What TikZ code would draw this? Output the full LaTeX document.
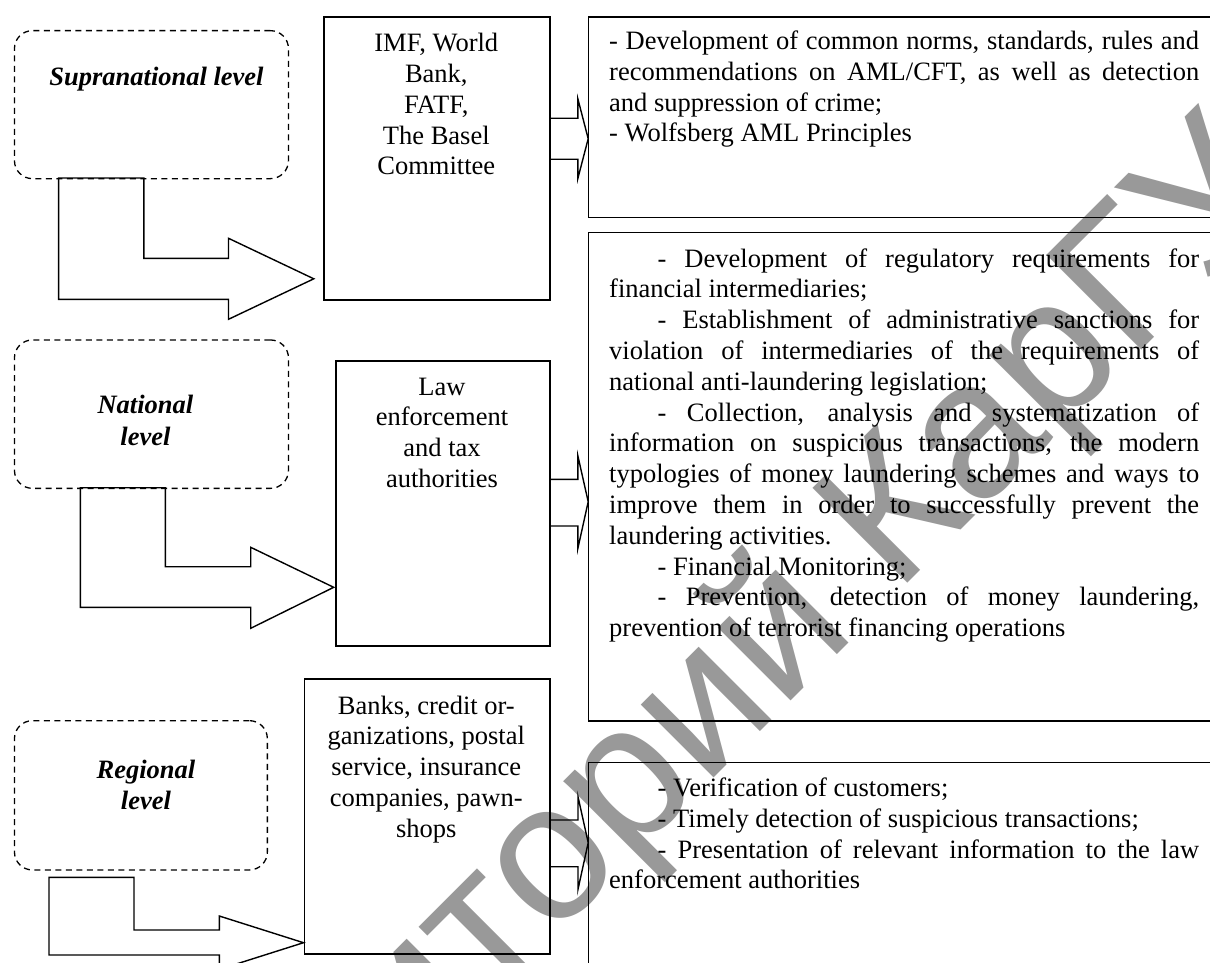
\documentclass[tikz,border=0pt]{standalone}
\usepackage{fontspec}
\setmainfont{Liberation Serif}
\newfontfamily\wmfont{Liberation Sans}
\newcommand\bodysize{\fontsize{26.5pt}{30.8pt}\selectfont}
\newcommand\jtext[3]{\parbox[t]{#1}{\bodysize\tolerance=10000\hbadness=10000\hyphenpenalty=10000\parskip=0pt\setlength{\parindent}{#2}#3}}
\newcommand\ctext[2]{\parbox[t]{#1}{\centering\bodysize #2}}
\newcommand\ltext[2]{\parbox[t]{#1}{\centering\bodysize\bfseries\itshape #2}}
\tikzset{
  orgbox/.style={draw, line width=1.6pt, inner sep=0pt, anchor=north west},
  levelbox/.style={draw, line width=1.3pt, dash pattern=on 6pt off 4.5pt, rounded corners=18pt, inner sep=0pt, anchor=north west},
  blockarrow/.style={draw, line width=1.4pt, line join=miter},
  txt/.style={inner sep=0pt, anchor=base},
  txtw/.style={inner sep=0pt, anchor=base west},
}
\begin{document}
\begin{tikzpicture}[x=1pt, y=-1pt]
\fill[white] (0,0) rectangle (1210,963);
\useasboundingbox (0,0) rectangle (1210,963);
\clip (0,0) rectangle (1210,963);
% watermark
\node[rotate=45, text=black!40, inner sep=0pt, font=\wmfont\fontsize{195pt}{195pt}\selectfont] (wm) at (628,790) {Репозиторий КарГУ};
% level boxes
\node[levelbox, minimum width=274pt, minimum height=148pt] (sup) at (13.8,30) {};
\node[levelbox, minimum width=274pt, minimum height=148.4pt] (nat) at (13.8,339.3) {};
\node[levelbox, minimum width=252.9pt, minimum height=149.3pt] (reg) at (13.8,720) {};
\node[txt] (suptext) at (156.5,86) {\ltext{270pt}{Supranational level}};
\node[txt] (nattext) at (145.4,413) {\ltext{240pt}{National\\[1.2pt] level}};
\node[txt] (regtext) at (146,778.3) {\ltext{240pt}{Regional\\ level}};
% organisation boxes
\node[orgbox, minimum width=225.8pt, minimum height=283.3pt] (imf) at (323.4,16) {};
\node[orgbox, minimum width=214.3pt, minimum height=285pt] (law) at (334.9,360) {};
\node[orgbox, minimum width=245.7pt, minimum height=275pt] (bank) at (303.5,678) {};
\node[txt] (imftext) at (436.3,51.7) {\ctext{220pt}{IMF, World\\ Bank,\\ FATF,\\ The Basel\\ Committee}};
\node[txt] (lawtext) at (442,395) {\ctext{210pt}{Law\\ enforcement\\ and tax\\ authorities}};
\node[txt] (banktext) at (426.3,714) {\ctext{240pt}{Banks, credit or-\\ ganizations, postal\\ service, insurance\\ companies, pawn-\\ shops}};
% function boxes
\node[orgbox, minimum width=660pt, minimum height=200.2pt] (f1) at (587.5,16.5) {};
\node[orgbox, minimum width=660pt, minimum height=488.3pt] (f2) at (587.5,231.7) {};
\node[orgbox, minimum width=660pt, minimum height=260pt] (f3) at (587.5,761.7) {};
\node[txtw] (f1text) at (609,49.5) {\jtext{590pt}{0pt}{- Development of common norms, standards, rules and\linebreak recommendations on AML/CFT, as well as detection\linebreak and suppression of crime;\par - Wolfsberg AML Principles}};
\node[txtw] (f2text) at (609,267) {\jtext{590pt}{48.5pt}{- Development of regulatory requirements for\linebreak financial intermediaries;\par
- Establishment of administrative sanctions for\linebreak violation of intermediaries of the requirements of\linebreak national anti-laundering legislation;\par
- Collection, analysis and systematization of\linebreak information on suspicious transactions, the modern\linebreak typologies of money laundering schemes and ways to\linebreak improve them in order to successfully prevent the\linebreak laundering activities.\par
- Financial Monitoring;\par
- Prevention, detection of money laundering,\linebreak prevention of terrorist financing operations}};
\node[txtw] (f3text) at (609,796.5) {\jtext{590pt}{48.5pt}{- Verification of customers;\par
- Timely detection of suspicious transactions;\par
- Presentation of relevant information to the law\linebreak enforcement authorities}};
% L-shaped block arrows from level boxes to organisation boxes
\draw[blockarrow] (58.6,178) -- (143.9,178) -- (143.9,258.3) -- (228.5,258.3) -- (228.5,238.3) -- (313.8,278.8) -- (228.5,319.3) -- (228.5,299.3) -- (58.6,299.3) -- cycle;
\draw[blockarrow] (80.4,487.7) -- (165.3,487.7) -- (165.3,566.7) -- (250.7,566.7) -- (250.7,547.3) -- (333.7,587.3) -- (250.7,628.3) -- (250.7,607.3) -- (80.4,607.3) -- cycle;
\draw[blockarrow] (49,877.3) -- (134,877.3) -- (134,930) -- (219.3,930) -- (219.3,916) -- (303.5,942.7) -- (219.3,969.4) -- (219.3,955) -- (49,955) -- cycle;
% small block arrows from organisation boxes to function boxes
\draw[blockarrow] (549.2,118.3) -- (577.9,118.3) -- (577.9,99) -- (588.2,138.7) -- (577.9,178.3) -- (577.9,159.3) -- (549.2,159.3);
\draw[blockarrow] (549.2,479.3) -- (577.9,479.3) -- (577.9,456) -- (588.2,501.7) -- (577.9,548.3) -- (577.9,526) -- (549.2,526);
\draw[blockarrow] (549.2,820) -- (578,820) -- (578,796.7) -- (588.2,842.7) -- (578,889.3) -- (578,866.7) -- (549.2,866.7);
\end{tikzpicture}
\end{document}
